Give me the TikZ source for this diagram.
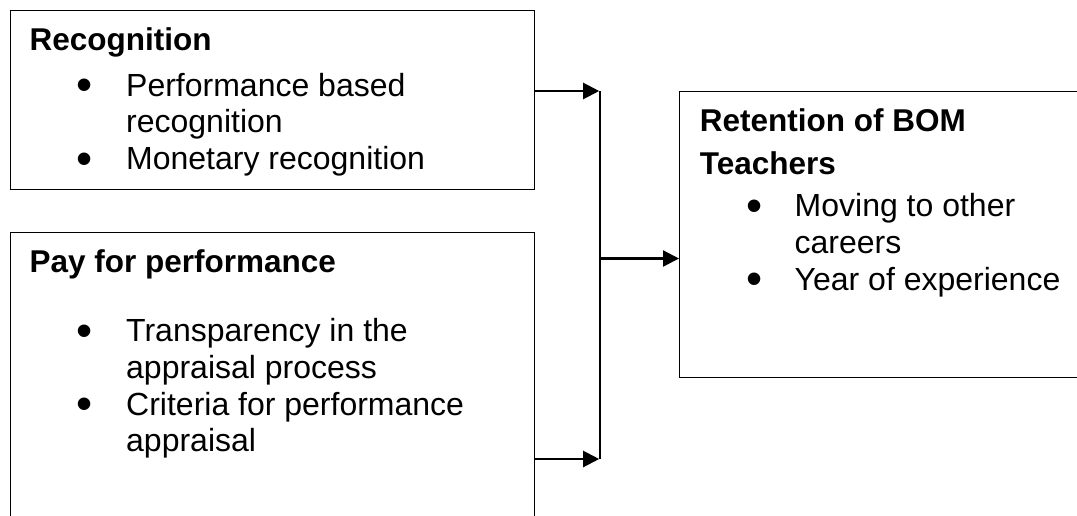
\documentclass[tikz,border=0pt]{standalone}
\usepackage{fontspec}
\setmainfont{Liberation Sans}
\usetikzlibrary{arrows.meta}
\begin{document}
\begin{tikzpicture}[x=1pt,y=-1pt,
  box/.style={draw=black,line width=1.3pt,inner sep=0pt,anchor=north west},
  ttl/.style={anchor=base west,inner sep=0pt,font=\fontsize{31.5}{36}\selectfont\bfseries},
  itm/.style={anchor=base west,inner sep=0pt,font=\fontsize{32}{36}\selectfont},
  bul/.style={anchor=center,inner sep=0pt,font=\fontsize{46}{46}\selectfont},
  conn/.style={line width=2.2pt,-{Triangle[length=16pt,width=16pt]}},
  bus/.style={line width=1.6pt}]
\useasboundingbox (0,0) rectangle (1077,515);
\clip (0,0) rectangle (1077,515);
\fill[white] (0,0) rectangle (1077,515);

% boxes
\node[box,minimum width=524pt,minimum height=179pt] (rec) at (10,10) {};
\node[box,minimum width=524pt,minimum height=300pt] (pay) at (10,232) {};
\node[box,minimum width=430pt,minimum height=286pt] (ret) at (679,91) {};

% Recognition
\node[ttl] (recT) at (29.5,50.5) {Recognition};
\node[bul] (recB1) at (85,90) {•};
\node[itm] (recI1a) at (126,96) {Performance based};
\node[itm] (recI1b) at (126,132.7) {recognition};
\node[bul] (recB2) at (85,163.4) {•};
\node[itm] (recI2) at (126,169.4) {Monetary recognition};

% Pay for performance
\node[ttl] (payT) at (29.5,272) {Pay for performance};
\node[bul] (payB1) at (85,335.7) {•};
\node[itm] (payI1a) at (126,341.7) {Transparency in the};
\node[itm] (payI1b) at (126,378.3) {appraisal process};
\node[bul] (payB2) at (85,409) {•};
\node[itm] (payI2a) at (126,415) {Criteria for performance};
\node[itm] (payI2b) at (126,451.7) {appraisal};

% Retention
\node[ttl] (retT1) at (699.7,131) {Retention of BOM};
\node[ttl] (retT2) at (699.7,174.3) {Teachers};
\node[bul] (retB1) at (755,210.7) {•};
\node[itm] (retI1a) at (794.5,216.7) {Moving to other};
\node[itm] (retI1b) at (794.5,253.4) {careers};
\node[bul] (retB2) at (755,284) {•};
\node[itm] (retI2) at (794.5,290) {Year of experience};

% connectors
\coordinate (ja) at (600,91);
\coordinate (jb) at (600,459);
\coordinate (jm) at (600,258.5);
\coordinate (ta) at (599.2,91);
\coordinate (tb) at (599.2,459);
\draw[bus] (ja) -- (jb);
\draw[conn] (rec.east |- ja) -- (ta);
\draw[conn] (pay.east |- jb) -- (tb);
\draw[conn] (jm) -- (ret.west |- jm);
\end{tikzpicture}
\end{document}
